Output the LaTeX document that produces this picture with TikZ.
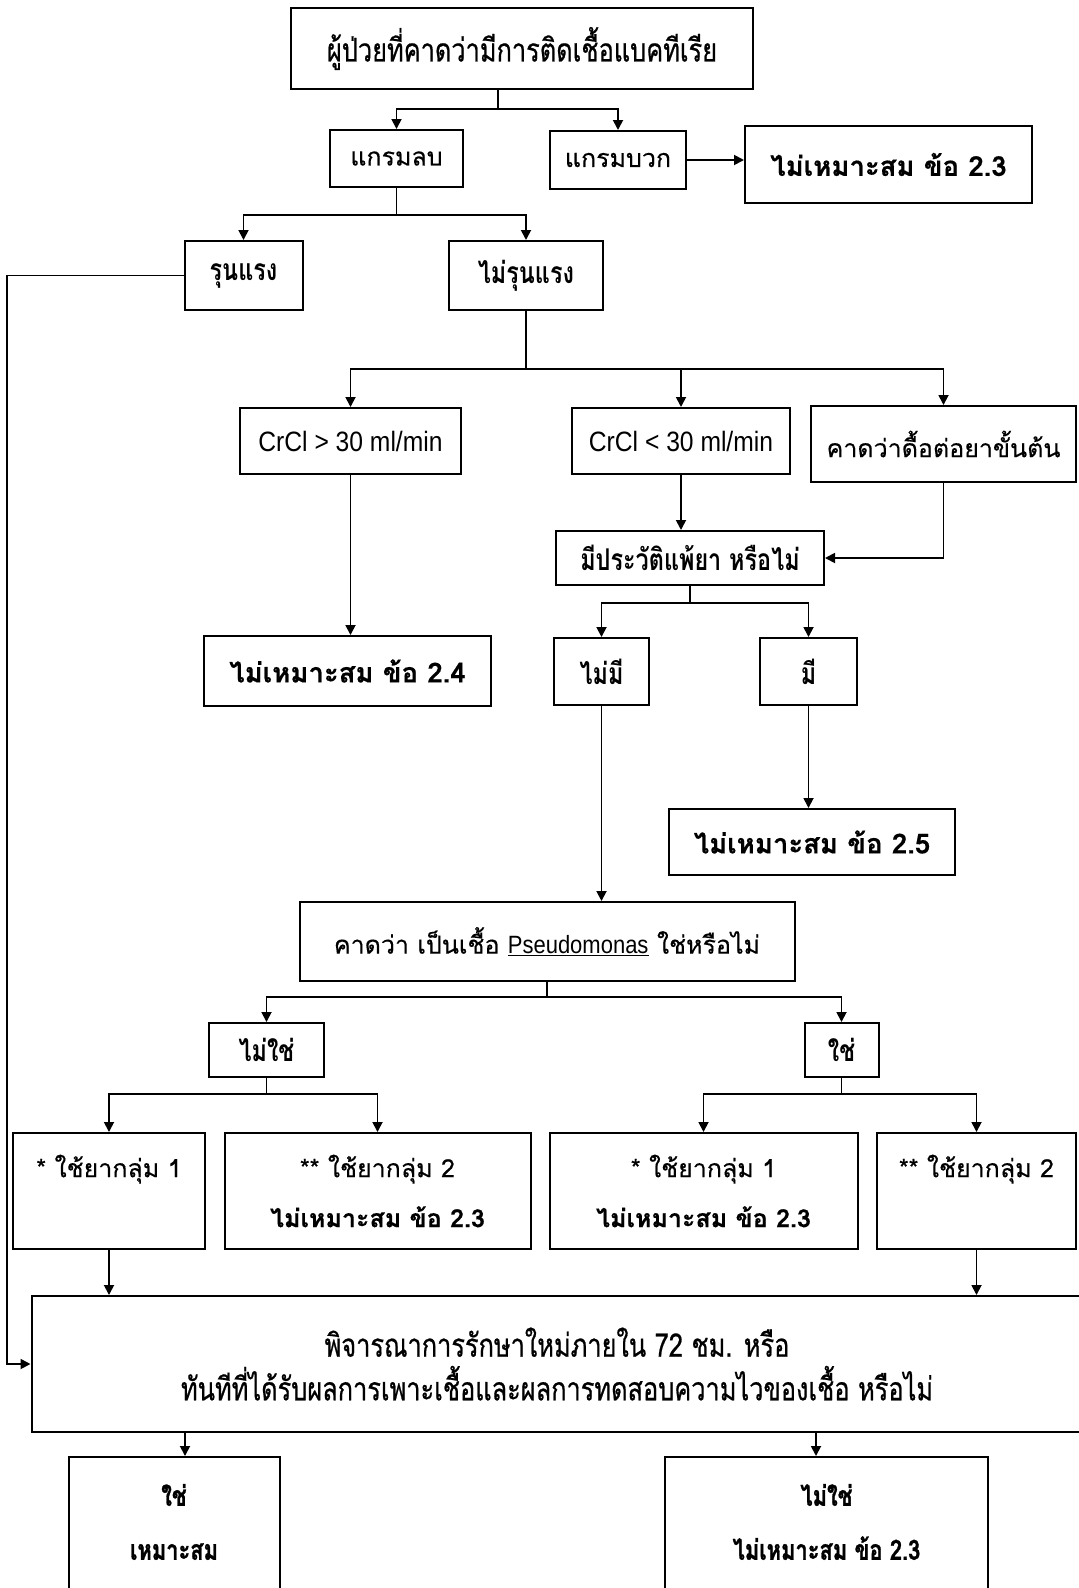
\documentclass[tikz,border=0pt]{standalone}
\usepackage{fontspec}
\setmainfont{Liberation Sans}
\newfontfamily\thaireg[Script=Thai,FakeBold=0.4]{Loma}
\newfontfamily\thaicnd[Script=Thai,FakeStretch=0.78,FakeBold=0.6]{Loma}
\newfontfamily\thaicndb[Script=Thai,FakeStretch=0.78]{Loma Bold}
\newfontfamily\thaicndh[Script=Thai,FakeStretch=0.78,FakeBold=1]{Loma Bold}
\newfontfamily\latinsans[FakeStretch=0.88]{Liberation Sans}
\usetikzlibrary{arrows.meta}

% bold "inappropriate, item ..." verdict
\newcommand{\verdict}[1]{{\bfseries ไม่เหมาะสม ข้อ #1}}

\tikzset{
  box/.style={draw, line width=2pt, inner sep=0pt, align=center},
  reg/.style={font=\thaireg\fontsize{25}{30}\selectfont},
  cnd/.style={font=\thaicnd\fontsize{32.5}{34}\selectfont},
  cndb/.style={font=\thaicndb\fontsize{30}{34}\selectfont},
  lowb/.style={font=\thaicndh\fontsize{28}{30}\selectfont},
  bld/.style={font=\thaireg\bfseries\fontsize{27.5}{30}\selectfont},
  lat/.style={font=\latinsans\fontsize{28}{30}\selectfont},
  wire/.style={line width=1.8pt},
  arr/.style={line width=1.8pt, -{Triangle[length=10pt,width=10pt]}},
}

\begin{document}
\begin{tikzpicture}[x=1pt, y=-1pt]
\useasboundingbox (0,0) rectangle (1079,1588);
\clip (0,0) rectangle (1079,1588);

% ---------- boxes ----------
\node[box, cnd, minimum width=462, minimum height=81] (top) at (522,48.5)
  {ผู้ป่วยที่คาดว่ามีการติดเชื้อแบคทีเรีย};
\node[box, reg, minimum width=133, minimum height=57] (neg) at (396.5,158.5) {แกรมลบ};
\node[box, reg, minimum width=136, minimum height=58] (pos) at (618,160) {แกรมบวก};
\node[box, bld, minimum width=287, minimum height=77] (naA) at (888.5,164.5) {ไม่เหมาะสม ข้อ 2.3};

\node[box, cndb, minimum width=118, minimum height=69] (sev) at (243.5,275.5) {รุนแรง};
\node[box, cndb, minimum width=154, minimum height=69] (nsev) at (526,275.5) {ไม่รุนแรง};

\node[box, lat, minimum width=221, minimum height=66] (crhi) at (350.5,441) {CrCl > 30 ml/min};
\node[box, lat, minimum width=218, minimum height=66] (crlo) at (681,441) {CrCl < 30 ml/min};
\node[box, reg, minimum width=265, minimum height=76] (resist) at (943.5,444) {คาดว่าดื้อต่อยาขั้นต้น};

\node[box, bld, minimum width=287, minimum height=70] (naB) at (347.5,671) {ไม่เหมาะสม ข้อ 2.4};
\node[box, cndb, minimum width=268, minimum height=54] (allergy) at (690,558) {มีประวัติแพ้ยา หรือไม่};
\node[box, cndb, minimum width=95, minimum height=67] (nohx) at (601.5,671.5) {ไม่มี};
\node[box, cndb, minimum width=97, minimum height=67] (hx) at (808.5,671.5) {มี};
\node[box, bld, minimum width=286, minimum height=66] (naC) at (812,842) {ไม่เหมาะสม ข้อ 2.5};

\node[box, reg, minimum width=495, minimum height=79] (pseudo) at (547,941.5)
  {คาดว่า เป็นเชื้อ {\latinsans\underline{Pseudomonas}} ใช่หรือไม่};
\node[box, cndb, minimum width=115, minimum height=54] (notps) at (266.5,1050) {ไม่ใช่};
\node[box, cndb, minimum width=74, minimum height=54] (isps) at (841.5,1050) {ใช่};

\node[box, reg, minimum width=192, minimum height=116] (gA) at (109,1191)
  {* ใช้ยากลุ่ม 1\\[20pt]\vphantom{\verdict{2.3}}};
\node[box, reg, minimum width=306, minimum height=116] (gB) at (377.5,1191)
  {** ใช้ยากลุ่ม 2\\[20pt]\verdict{2.3}};
\node[box, reg, minimum width=308, minimum height=116] (gC) at (703.5,1191)
  {* ใช้ยากลุ่ม 1\\[20pt]\verdict{2.3}};
\node[box, reg, minimum width=199, minimum height=116] (gD) at (976.5,1191)
  {** ใช้ยากลุ่ม 2\\[20pt]\vphantom{\verdict{2.3}}};

\node[box, cnd, minimum width=1051, minimum height=136] (big) at (557,1364)
  {พิจารณาการรักษาใหม่ภายใน 72 ชม. หรือ\\[8pt]ทันทีที่ได้รับผลการเพาะเชื้อและผลการทดสอบความไวของเชื้อ หรือไม่};

\node[box, minimum width=211, minimum height=200, anchor=north] (ok) at (174,1456) {};
\node[lowb, align=center] (okt) at (174,1522) {ใช่\\[24pt]เหมาะสม};
\node[box, minimum width=323, minimum height=200, anchor=north] (notok) at (826.5,1456) {};
\node[lowb, align=center] (notokt) at (826.5,1522) {ไม่ใช่\\[24pt]ไม่เหมาะสม ข้อ 2.3};

% ---------- connectors ----------
\coordinate (f1) at (498,109);
\draw[wire] (top.south -| f1) -- (f1);
\draw[arr] (f1) -| (neg.north);
\draw[arr] (f1) -| (pos.north);
\draw[arr] (pos.east) -- (naA.west |- pos.east);

\coordinate (f2) at (neg.south |- 0,215);
\draw[wire] (neg.south) -- (f2);
\draw[arr] (f2) -| (sev.north);
\draw[arr] (f2) -| (nsev.north);

\coordinate (f3) at (nsev.south |- 0,369);
\draw[wire] (nsev.south) -- (f3);
\draw[arr] (f3) -| (crhi.north);
\draw[arr] (f3) -| (crlo.north);
\draw[arr] (f3) -| (resist.north);

\draw[arr] (crhi.south) -- (crhi.south |- naB.north);
\draw[arr] (crlo.south) -- (crlo.south |- allergy.north);
\draw[arr] (resist.south) |- (allergy.east);

\coordinate (f4) at (allergy.south |- 0,603);
\draw[wire] (allergy.south) -- (f4);
\draw[arr] (f4) -| (nohx.north);
\draw[arr] (f4) -| (hx.north);

\draw[arr] (nohx.south) -- (nohx.south |- pseudo.north);
\draw[arr] (hx.south) -- (hx.south |- naC.north);

\coordinate (f5) at (pseudo.south |- 0,997);
\draw[wire] (pseudo.south) -- (f5);
\draw[arr] (f5) -| (notps.north);
\draw[arr] (f5) -| (isps.north);

\coordinate (f6) at (notps.south |- 0,1094);
\draw[wire] (notps.south) -- (f6);
\draw[arr] (f6) -| (gA.north);
\draw[arr] (f6) -| (gB.north);

\coordinate (f7) at (isps.south |- 0,1094);
\draw[wire] (isps.south) -- (f7);
\draw[arr] (f7) -| (gC.north);
\draw[arr] (f7) -| (gD.north);

\draw[arr] (gA.south) -- (gA.south |- big.north);
\draw[arr] (gD.south) -- (gD.south |- big.north);

% severe cases bypass straight to the reassessment box
\coordinate (lane) at (7,0);
\draw[arr] (sev.west) -- (sev.west -| lane) |- (big.west);

\coordinate (d1) at (185,0);
\coordinate (d2) at (816,0);
\draw[arr] (big.south -| d1) -- (ok.north -| d1);
\draw[arr] (big.south -| d2) -- (notok.north -| d2);
\end{tikzpicture}
\end{document}
